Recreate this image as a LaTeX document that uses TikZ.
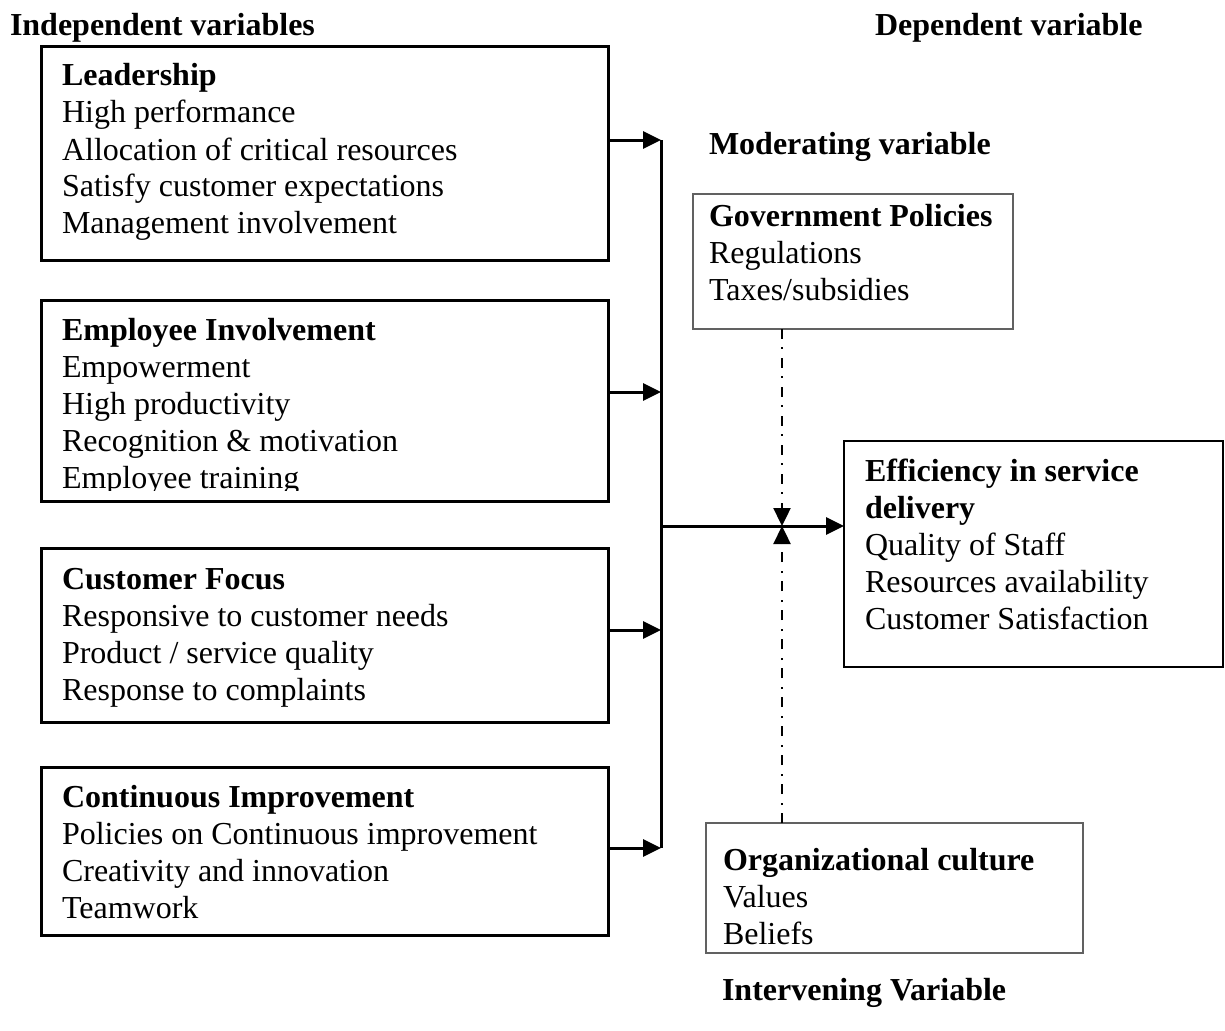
\documentclass[tikz,border=0pt]{standalone}
\usepackage{fontspec}
\setmainfont{Liberation Serif}
\usetikzlibrary{arrows.meta}
\begin{document}
\begin{tikzpicture}[x=1pt,y=-1pt,
  every node/.style={inner sep=0pt, outer sep=0pt},
  varbox/.style={draw=black, line width=3pt, rectangle, anchor=north west},
  effbox/.style={draw=black, line width=2.6pt, rectangle, anchor=north west},
  modbox/.style={draw=black!62, line width=2pt, rectangle, anchor=north west},
  lines/.style={anchor=base west, font=\fontsize{32}{37}\selectfont},
  heading/.style={anchor=base west, font=\fontsize{32}{37}\selectfont\bfseries},
  tip/.style={-{Triangle[length=18pt,width=17pt]}},
  wire/.style={draw=black, line width=3pt},
  modline/.style={draw=black, line width=2.4pt, dash pattern=on 10pt off 8pt on 2pt off 9pt}]

  % canvas
  \useasboundingbox (0,0) rectangle (1225,1030);

  % column headings
  \node[heading] (hind) at (10,36) {Independent variables};
  \node[heading] (hdep) at (875,36) {Dependent variable};
  \node[heading] (hmod) at (709,154) {Moderating variable};
  \node[heading] (hint) at (722,1000) {Intervening Variable};

  % independent variable boxes
  \node[varbox, minimum width=567pt, minimum height=213pt] (lead) at (41,47) {};
  \node[lines] (leadtxt) at (62,86) {\parbox[t]{540pt}{\textbf{Leadership}\\
    High performance\\Allocation of critical resources\\
    Satisfy customer expectations\\Management involvement}};

  \node[varbox, minimum width=567pt, minimum height=201pt] (emp) at (41,300) {};
  \begin{scope}
    \clip (41,300) rectangle (608,490);
    \node[lines] (emptxt) at (62,340) {\parbox[t]{540pt}{\textbf{Employee Involvement}\\
      Empowerment\\High productivity\\Recognition \& motivation\\Employee training}};
  \end{scope}

  \node[varbox, minimum width=567pt, minimum height=174pt] (cust) at (41,548) {};
  \node[lines] (custtxt) at (62,589) {\parbox[t]{540pt}{\textbf{Customer Focus}\\
    Responsive to customer needs\\Product / service quality\\Response to complaints}};

  \node[varbox, minimum width=567pt, minimum height=168pt] (cont) at (41,767) {};
  \node[lines] (conttxt) at (62,807) {\parbox[t]{540pt}{\textbf{Continuous Improvement}\\
    Policies on Continuous improvement\\Creativity and innovation\\Teamwork}};

  % moderating variable
  \node[modbox, minimum width=320pt, minimum height=135pt] (gov) at (693,194) {};
  \node[lines] (govtxt) at (709,226) {\parbox[t]{300pt}{\textbf{Government Policies}\\
    Regulations\\Taxes/subsidies}};

  % dependent variable
  \node[effbox, minimum width=379pt, minimum height=226pt] (eff) at (844,441) {};
  \node[lines] (efftxt) at (865,481) {\parbox[t]{350pt}{\textbf{Efficiency in service}\\
    \textbf{delivery}\\Quality of Staff\\Resources availability\\Customer Satisfaction}};

  % intervening variable
  \node[modbox, minimum width=377pt, minimum height=130pt] (org) at (706,823) {};
  \node[lines] (orgtxt) at (723,870) {\parbox[t]{350pt}{\textbf{Organizational culture}\\
    Values\\Beliefs}};

  % collecting bus and arrows into it
  \coordinate (b1) at (661,140);
  \coordinate (b2) at (661,392);
  \coordinate (b3) at (661,630);
  \coordinate (b4) at (661,848);
  \coordinate (j) at (661,526);
  \draw[wire] (b1) -- (b4);
  \draw[wire, tip] (lead.east |- b1) -- (b1);
  \draw[wire, tip] (emp.east |- b2) -- (b2);
  \draw[wire, tip] (cust.east |- b3) -- (b3);
  \draw[wire, tip] (cont.east |- b4) -- (b4);

  % main arrow to the dependent variable
  \draw[wire, tip] (j) -- (eff.west |- j);

  % moderating and intervening influences
  \coordinate (m) at (782,526);
  \draw[modline, tip] (gov.south -| m) -- (m);
  \draw[modline, tip] (org.north -| m) -- (m);
\end{tikzpicture}
\end{document}
